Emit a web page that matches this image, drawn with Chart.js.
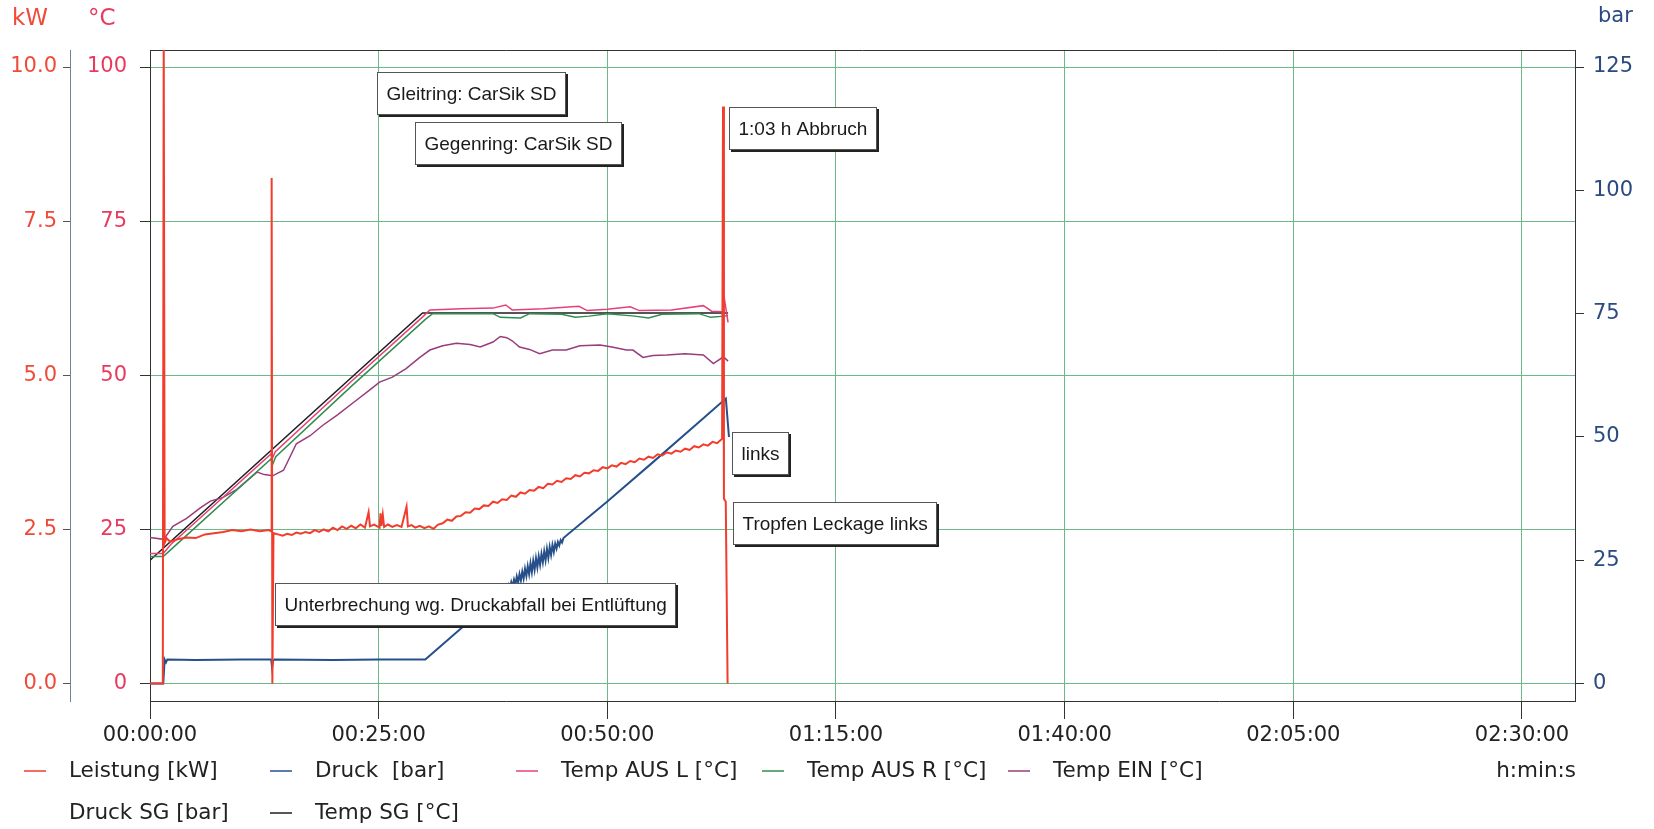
<!DOCTYPE html>
<html>
<head>
<meta charset="utf-8">
<script src="https://cdn.jsdelivr.net/npm/chart.js@4.4.1/dist/chart.umd.min.js"></script>
<style>
  html, body { margin: 0; padding: 0; background: #fff; }
</style>
</head>
<body>
<canvas id="chart" width="1654" height="829"></canvas>
<script>
// all times in minutes since start
const timeTicks = [0, 25, 50, 75, 100, 125, 150];
const kwTicks = [0, 2.5, 5, 7.5, 10];
const tempTicks = [0, 25, 50, 75, 100];
const barTicks = [0, 25, 50, 75, 100, 125];

const leistungT = [0, 1.4, 1.5, 1.6, 1.8, 2.2, 3, 4, 5, 6, 7, 8, 9, 10, 11, 12, 13, 13.25, 13.3, 13.38, 13.5,
  14, 14.5, 15, 15.5, 16, 16.5, 17, 17.5, 18, 18.5, 19, 19.5, 20, 20.5, 21, 21.5, 22, 22.5, 23, 23.5,
  23.9, 24.05, 24.5, 25.1, 25.2, 25.3, 25.45, 25.6, 26, 26.5, 27, 27.5, 28.05, 28.2, 28.6, 29, 29.5, 30, 30.5, 31, 31.5,
  32, 32.5, 33, 33.5, 34, 34.5, 35, 35.5, 36, 36.5, 37, 37.5, 38, 38.5, 39, 39.5, 40, 40.5, 41, 41.5, 42, 42.5,
  43, 43.5, 44, 44.5, 45, 45.5, 46, 46.5, 47, 47.5, 48, 48.5, 49, 49.5, 50, 50.5, 51, 51.5, 52, 52.5,
  53, 53.5, 54, 54.5, 55, 55.5, 56, 56.5, 57, 57.5, 58, 58.5, 59, 59.5, 60, 60.5, 61, 61.5, 62,
  62.55, 62.65, 62.75, 62.95, 63.15];
const leistungKW = [0, 0, 10.6, 2.28, 2.36, 2.30, 2.34, 2.37, 2.36, 2.42, 2.44, 2.46, 2.49, 2.47, 2.50, 2.47, 2.49, 2.47, 8.2, 0, 2.44,
  2.42, 2.40, 2.43, 2.41, 2.45, 2.43, 2.46, 2.44, 2.49, 2.46, 2.50, 2.47, 2.53, 2.49, 2.55, 2.51, 2.56, 2.52, 2.58, 2.53,
  2.78, 2.55, 2.58, 2.53, 2.76, 2.56, 2.74, 2.54, 2.58, 2.54, 2.57, 2.54, 2.87, 2.55, 2.57, 2.53, 2.56, 2.52, 2.55, 2.51, 2.58,
  2.60, 2.66, 2.64, 2.71, 2.72, 2.78, 2.77, 2.84, 2.83, 2.89, 2.88, 2.95, 2.93, 2.99, 2.98, 3.05, 3.03, 3.10, 3.08, 3.14, 3.13, 3.19,
  3.17, 3.24, 3.23, 3.29, 3.27, 3.33, 3.32, 3.38, 3.36, 3.42, 3.41, 3.46, 3.45, 3.51, 3.49, 3.54, 3.52, 3.58, 3.56, 3.61,
  3.59, 3.65, 3.63, 3.68, 3.66, 3.72, 3.70, 3.75, 3.73, 3.78, 3.76, 3.81, 3.79, 3.85, 3.83, 3.88, 3.86, 3.92, 3.90,
  3.97, 9.36, 3.0, 2.95, 0];

const druckT = [0, 1.45, 1.6, 1.75, 1.9, 5, 10, 13.25, 13.35, 13.45, 13.6, 20, 25, 30.1, 35, 38,
  38.6, 38.75, 38.9, 39.05, 39.2, 39.35, 39.5, 39.65, 39.8, 39.95, 40.1, 40.25, 40.4, 40.55, 40.7, 40.85,
  41.0, 41.15, 41.3, 41.45, 41.6, 41.75, 41.9, 42.05, 42.2, 42.35, 42.5, 42.65, 42.8, 42.95, 43.1, 43.25,
  43.4, 43.55, 43.7, 43.85, 44.0, 44.15, 44.3, 44.45, 44.6, 44.75, 44.9, 45.05, 45.2,
  50, 55, 60, 62.96, 63.3];
const druckBar = [0, 0, 4.9, 4.3, 4.9, 4.8, 4.9, 4.9, 3.2, 4.6, 4.9, 4.8, 4.9, 4.9, 12.8, 17.6,
  18.9, 18.5, 19.5, 18.9, 20.0, 19.3, 20.6, 19.7, 21.1, 20.1, 21.7, 20.5, 22.2, 20.9, 22.7, 21.3,
  23.3, 21.8, 23.8, 22.2, 24.4, 22.6, 24.9, 23.1, 25.4, 23.6, 25.8, 24.1, 26.3, 24.6, 26.8, 25.0,
  27.3, 25.5, 27.7, 26.1, 28.1, 26.7, 28.4, 27.4, 28.7, 28.0, 29.1, 28.6, 29.5,
  36.9, 44.9, 53.0, 57.8, 50.0];

const ausLT = [0, 1.45, 2.3, 13.2, 13.4, 13.7, 22, 29.9, 30.6, 34, 37.5, 38.9, 39.6, 43, 46.9, 47.8, 50, 52.5, 53.5, 57, 60.5, 61.4, 62.6, 62.8, 63.2];
const ausLV = [21.1, 21.1, 22.6, 37.2, 36.6, 37.6, 49.0, 59.6, 60.6, 60.8, 60.9, 61.4, 60.6, 60.8, 61.2, 60.5, 60.7, 61.1, 60.5, 60.6, 61.3, 60.4, 60.3, 62.4, 58.6];

const ausRT = [0, 1.45, 2.4, 13.2, 13.45, 13.75, 22, 30.2, 30.9, 37.5, 38.3, 40.5, 41.5, 45, 46.5, 48, 50, 53, 54.5, 56, 60, 61.3, 62.8, 63.2];
const ausRV = [20.6, 20.6, 21.9, 36.4, 35.7, 36.8, 48.2, 59.2, 60.0, 60.0, 59.4, 59.3, 60.0, 59.9, 59.4, 59.6, 60.0, 59.6, 59.3, 59.9, 60.0, 59.4, 59.6, 59.7];

const einT = [0, 1.5, 2.5, 4.0, 5.5, 6.6, 8.0, 9.5, 11.7, 12.5, 13.4, 14.6, 16.0, 17.5, 18.9, 20.5, 22.6, 24, 25.1, 26.5, 28.0, 29.5,
  30.6, 32, 33.5, 35, 36.1, 37.5, 38.3, 39.0, 39.6, 40.4, 41.5, 42.6, 44, 45.5, 47, 49.2, 50.5, 52.1, 52.8, 53.9, 55, 56.5, 58.5,
  60.5, 61.6, 62.7, 63.2];
const einV = [23.7, 23.4, 25.5, 26.8, 28.5, 29.6, 30.2, 31.5, 34.3, 33.9, 33.7, 34.6, 38.9, 40.2, 41.9, 43.6, 46.0, 47.6, 48.9, 49.7, 51.1, 52.9,
  54.1, 54.8, 55.2, 55.0, 54.6, 55.4, 56.3, 56.1, 55.6, 54.6, 54.2, 53.5, 54.1, 54.1, 54.8, 54.9, 54.6, 54.1, 54.1, 52.9, 53.2, 53.3, 53.5,
  53.3, 51.9, 53.0, 52.3];

const druckSgT = [];
const druckSgV = [];

const sgT = [0, 29.8, 63.2];
const sgV = [20.0, 60.1, 60.1];

const notes = [
  { text: 'Gleitring: CarSik SD', t: 24.8, v: 99.2 },
  { text: 'Gegenring: CarSik SD', t: 29.0, v: 91.1 },
  { text: '1:03 h Abbruch', t: 63.3, v: 93.5 },
  { text: 'links', t: 63.6, v: 40.8 },
  { text: 'Tropfen Leckage links', t: 63.7, v: 29.4 },
  { text: 'Unterbrechung wg. Druckabfall bei Entlüftung', t: 13.7, v: 16.3 }
];

const GRID = '#6cb988';
const TICKFONT = { family: 'DejaVu Sans', size: 21 };

function pts(t, v){
  return t.map((x, i) => ({ x: x, y: v[i] }));
}
function pad(n){ return (n < 10 ? '0' : '') + n; }
function fmtTime(v){
  const h = Math.floor(v / 60), m = Math.round(v % 60);
  return pad(h) + ':' + pad(m) + ':00';
}
function fixTicks(list){
  return function(s){ s.ticks = list.map(v => ({ value: v })); };
}

// unit labels above the y axes, legend grid and text boxes
const decor = {
  id: 'decor',
  beforeDatasetsDraw(chart){
    const a = chart.chartArea, c = chart.ctx;
    c.save();
    c.strokeStyle = '#333';
    c.lineWidth = 1;
    c.beginPath();
    c.moveTo(a.left, a.top + 0.5);
    c.lineTo(a.right, a.top + 0.5);
    c.stroke();
    c.restore();
  },
  afterDatasetsDraw(chart){
    const c = chart.ctx;
    const xs = chart.scales.x, ys = chart.scales.temp;
    c.save();
    c.font = '19px "Liberation Sans", Arial, sans-serif';
    c.textBaseline = 'middle';
    notes.forEach(n => {
      const x = Math.round(xs.getPixelForValue(n.t));
      const y = Math.round(ys.getPixelForValue(n.v));
      const w = Math.round(c.measureText(n.text).width + 19);
      const h = 43;
      c.fillStyle = '#222';
      c.fillRect(x + 2, y + 2, w, h);
      c.fillStyle = '#fff';
      c.fillRect(x, y, w, h);
      c.strokeStyle = '#555';
      c.lineWidth = 1;
      c.strokeRect(x + 0.5, y + 0.5, w - 1, h - 1);
      c.fillStyle = '#1a1a1a';
      c.fillText(n.text, x + 9.5, y + h / 2 + 1);
    });
    c.restore();
  },
  afterDraw(chart){
    const c = chart.ctx;
    c.save();
    c.font = '23px "DejaVu Sans"';
    c.textBaseline = 'middle';
    c.fillStyle = '#f04a38';
    c.fillText('kW', 12, 19);
    c.fillStyle = '#e83a5e';
    c.fillText('°C', 88, 19);
    c.font = '21px "DejaVu Sans"';
    c.fillStyle = '#2a4a80';
    c.fillText('bar', 1598, 17);

    // legend: 5 columns, 2 rows
    c.font = '21.5px "DejaVu Sans"';
    chart.data.datasets.forEach((ds, i) => {
      const col = i % 5, row = Math.floor(i / 5);
      const tx = 69 + col * 246;
      const ty = 771 + row * 42;
      c.strokeStyle = ds.borderColor;
      c.lineWidth = 1.5;
      c.beginPath();
      c.moveTo(tx - 45, ty);
      c.lineTo(tx - 23, ty);
      c.stroke();
      c.fillStyle = '#222';
      c.fillText(ds.label, tx, ty);
    });
    c.textAlign = 'right';
    c.fillText('h:min:s', 1576, 771);
    c.restore();
  }
};

const line = (label, color, data, axis, width) => ({
  label: label, data: data, yAxisID: axis,
  borderColor: color, backgroundColor: color,
  borderWidth: width || 1.5, pointRadius: 0, tension: 0, fill: false
});

new Chart(document.getElementById('chart'), {
  type: 'line',
  data: {
    datasets: [
      line('Leistung [kW]', '#f23c2c', pts(leistungT, leistungKW), 'kw', 2),
      line('Druck  [bar]', '#27508a', pts(druckT, druckBar), 'bar', 2),
      line('Temp AUS L [°C]', '#e6407a', pts(ausLT, ausLV), 'temp'),
      line('Temp AUS R [°C]', '#2f8f4e', pts(ausRT, ausRV), 'temp'),
      line('Temp EIN [°C]', '#983c7c', pts(einT, einV), 'temp'),
      line('Druck SG [bar]', '#ffffff', pts(druckSgT, druckSgV), 'bar'),
      line('Temp SG [°C]', '#1e1e1e', pts(sgT, sgV), 'temp')
    ]
  },
  options: {
    responsive: false,
    animation: false,
    devicePixelRatio: 1,
    layout: { padding: { top: 50, bottom: 78, left: 0, right: 0 } },
    plugins: { legend: { display: false }, tooltip: { enabled: false } },
    scales: {
      x: {
        type: 'linear', position: 'bottom', min: 0, max: 155.8,
        afterBuildTicks: fixTicks(timeTicks),
        afterFit: s => { s.height = 50; },
        ticks: { callback: fmtTime, font: TICKFONT, color: '#222', padding: 4, maxRotation: 0, autoSkip: false },
        grid: { color: GRID, lineWidth: 1, tickLength: 18, tickColor: '#333' },
        border: { color: '#333', width: 1 }
      },
      kw: {
        type: 'linear', position: 'left', weight: 2, min: -0.282, max: 10.276,
        afterBuildTicks: fixTicks(kwTicks),
        afterFit: s => { s.width = 70; },
        ticks: { callback: v => v.toFixed(1), font: TICKFONT, color: '#f04a38', padding: 6 },
        grid: { drawOnChartArea: false, tickLength: 7, tickColor: '#555' },
        border: { color: '#6d8791', width: 1 }
      },
      temp: {
        type: 'linear', position: 'left', weight: 1, min: -2.82, max: 102.76,
        afterBuildTicks: fixTicks(tempTicks),
        afterFit: s => { s.width = 80; },
        ticks: { font: TICKFONT, color: '#e83a5e', padding: 13 },
        grid: { color: GRID, lineWidth: 1, tickLength: 10, tickColor: '#333' },
        border: { color: '#333', width: 1 }
      },
      bar: {
        type: 'linear', position: 'right', min: -3.525, max: 128.45,
        afterBuildTicks: fixTicks(barTicks),
        afterFit: s => { s.width = 79; },
        ticks: { font: TICKFONT, color: '#2a4a80', padding: 9 },
        grid: { drawOnChartArea: false, tickLength: 9, tickColor: '#333' },
        border: { color: '#333', width: 1 }
      }
    }
  },
  plugins: [decor]
});
</script>
</body>
</html>
